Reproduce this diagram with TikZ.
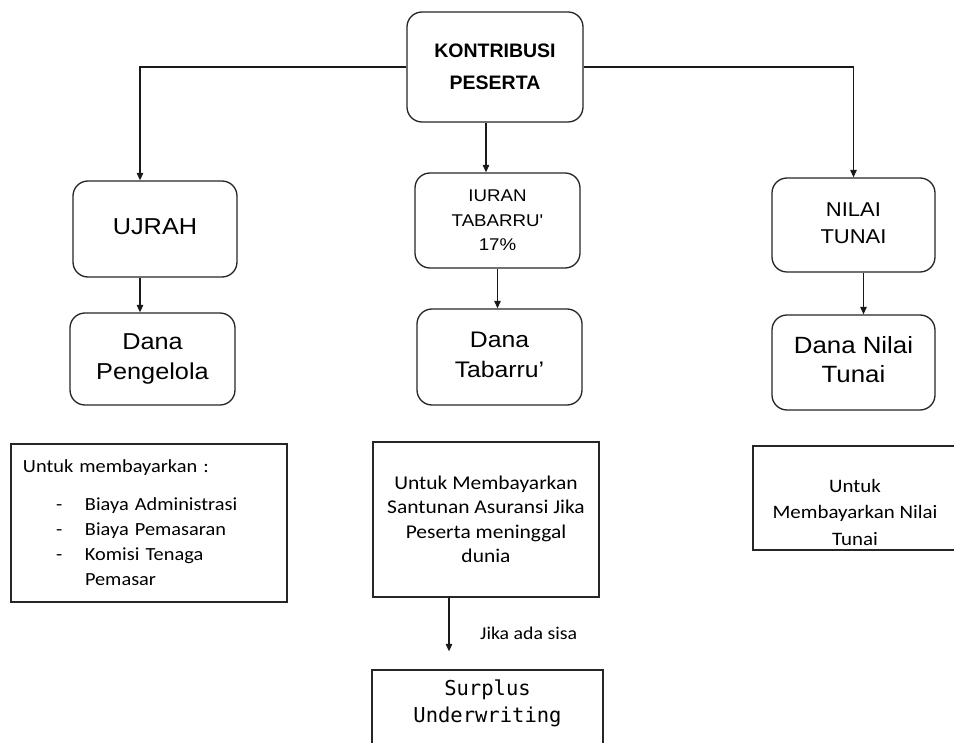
\documentclass[tikz,border=0pt]{standalone}
\usepackage{fontspec}
\usetikzlibrary{arrows.meta}
\setmainfont{Liberation Sans}
\newfontfamily\arialw[FakeStretch=1.1]{Liberation Sans}
\newfontfamily\calw[FakeStretch=1.1]{Carlito}
\newfontfamily\monow{DejaVu Sans Mono}
\newcommand\liftup[2]{\raisebox{#1}{\begin{tabular}{@{}c@{}}#2\end{tabular}}}
\tikzset{
  x=1pt, y=-1pt,
  rbox/.style={draw=black!85, line width=1.3pt, rounded corners=15pt, align=center, inner sep=2pt},
  pbox/.style={draw=black!85, line width=1.3pt, align=center, inner sep=2pt},
  arr/.style={draw=black!90, line width=1.1pt, -{Triangle[length=7.5pt,width=6.5pt]}},
  txt/.style={align=center, inner sep=0pt},
}
\begin{document}
\begin{tikzpicture}
\clip (0,0) rectangle (954,743);
\fill[white] (0,0) rectangle (954,743);

% top
\node[rbox, minimum width=176pt, minimum height=110pt,
      font=\bfseries\fontsize{19.5}{32}\selectfont] (kp) at (495,67) {\liftup{8pt}{KONTRIBUSI\\PESERTA}};

% second row
\node[rbox, minimum width=164pt, minimum height=96pt,
      font=\arialw\fontsize{23}{28}\selectfont] (uj) at (155,229) {\liftup{7pt}{UJRAH}};
\node[rbox, minimum width=165pt, minimum height=95pt,
      font=\arialw\fontsize{17}{24.5}\selectfont] (iu) at (497.5,220.5) {IURAN\\TABARRU'\\17\%};
\node[rbox, minimum width=163pt, minimum height=94pt,
      font=\arialw\fontsize{20}{27}\selectfont] (nt) at (853.5,225) {\liftup{8pt}{NILAI\\TUNAI}};

% third row
\node[rbox, minimum width=165pt, minimum height=92pt,
      font=\arialw\fontsize{23}{30}\selectfont] (dp) at (152.5,359) {\liftup{7pt}{Dana\\Pengelola}};
\node[rbox, minimum width=165pt, minimum height=96pt,
      font=\arialw\fontsize{22.5}{30}\selectfont] (dt) at (499.5,357) {\liftup{9pt}{Dana\\Tabarru’}};
\node[rbox, minimum width=163pt, minimum height=95pt,
      font=\arialw\fontsize{23.5}{28.5}\selectfont] (dn) at (853.5,362.5) {\liftup{8pt}{Dana Nilai\\Tunai}};

% fourth row
\node[pbox, minimum width=276pt, minimum height=158pt, text width=252pt, align=left,
      font=\calw\fontsize{18.5}{25}\selectfont] (lb) at (149,523)
  {Untuk membayarkan :\\[13pt]
   \hspace*{33pt}\makebox[29pt][l]{-}Biaya Administrasi\\
   \hspace*{33pt}\makebox[29pt][l]{-}Biaya Pemasaran\\
   \hspace*{33pt}\makebox[29pt][l]{-}Komisi Tenaga\\
   \hspace*{62pt}Pemasar};
\node[pbox, minimum width=226pt, minimum height=155pt,
      font=\calw\fontsize{19.5}{24.5}\selectfont] (mb) at (486,519.5)
  {Untuk Membayarkan\\Santunan Asuransi Jika\\Peserta meninggal\\dunia};
\node[pbox, minimum width=204pt, minimum height=104pt] (rb) at (855,498) {};
\node[txt, font=\calw\fontsize{19}{26.5}\selectfont] (rbt) at (855,512)
  {Untuk\\Membayarkan Nilai\\Tunai};

% bottom
\node[pbox, minimum width=231pt, minimum height=110pt] (sp) at (487.5,725) {};
\node[txt, font=\monow\fontsize{20.5}{27}\selectfont] (spt) at (487.5,703)
  {Surplus\\Underwriting};
\node[txt, anchor=west, font=\calw\fontsize{18}{22}\selectfont] (js) at (480,633) {Jika ada sisa};

% connectors
\draw[arr] (kp.west) -| ([xshift=-15pt]uj.north);
\draw[arr] (kp.east) -| (nt.north);
\draw[arr] ([xshift=-9pt]kp.south) -- ([xshift=-9pt]kp.south |- iu.north);
\draw[arr] ([xshift=-15pt]uj.south) -- ([xshift=-15pt]uj.south |- dp.north);
\draw[arr] ([xshift=-2pt]dt.north |- iu.south) -- ([xshift=-2pt]dt.north);
\draw[arr] ([xshift=10pt]nt.south) -- ([xshift=10pt]nt.south |- dn.north);
\draw[arr] ([xshift=-37pt]mb.south) -- ([xshift=-37pt,yshift=18pt]mb.south |- sp.north);
\end{tikzpicture}
\end{document}
